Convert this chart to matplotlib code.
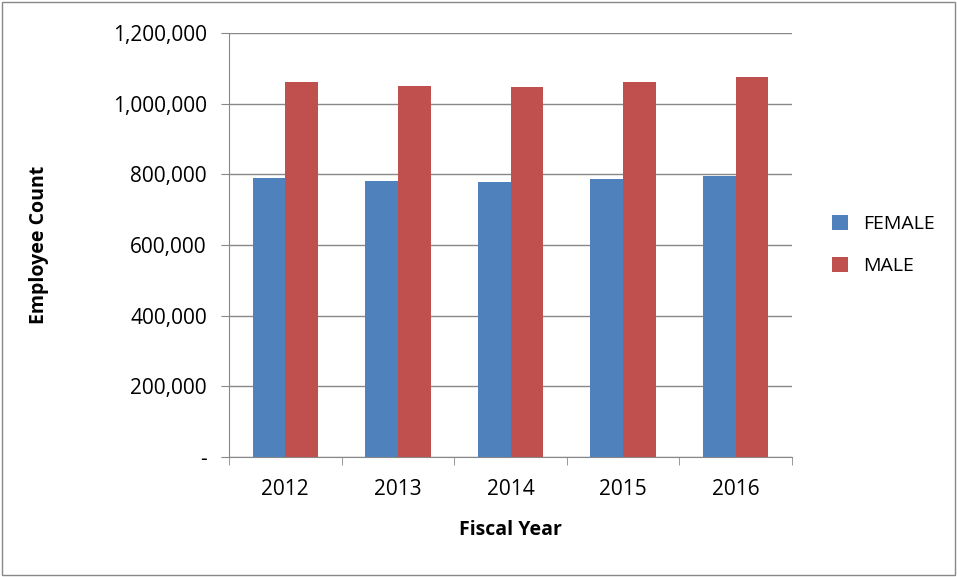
import matplotlib.pyplot as plt
import numpy as np
from matplotlib.ticker import FuncFormatter

years = ["2012", "2013", "2014", "2015", "2016"]
female = [790000, 781000, 778000, 787000, 795000]
male = [1061000, 1050000, 1047000, 1061000, 1075000]

plt.rcParams['font.family'] = ['Open Sans', 'DejaVu Sans']

fig = plt.figure(figsize=(9.57, 5.77), dpi=100)
fig.patches.append(plt.Rectangle((0.002, 0.003), 0.996, 0.994, transform=fig.transFigure,
                                 fill=False, edgecolor='#888888', linewidth=1))
ax = fig.add_axes([229 / 957, 1 - 457 / 577, (792 - 229) / 957, (457 - 33) / 577])

x = np.arange(len(years))
w = 0.29
ax.bar(x - w / 2, female, w, color='#4F81BD', label='FEMALE', zorder=3)
ax.bar(x + w / 2, male, w, color='#C0504D', label='MALE', zorder=3)

ax.set_xlim(-0.5, len(years) - 0.5)
ax.set_ylim(0, 1200000)
ax.set_yticks(np.arange(0, 1200001, 200000))
ax.yaxis.set_major_formatter(FuncFormatter(lambda v, p: '-' if v == 0 else f'{int(v):,}'))
ax.set_xticks(x)
ax.set_xticklabels(years)
ax.set_xticks(np.arange(-0.5, len(years)), minor=True)
ax.tick_params(axis='x', which='major', length=0, labelsize=15, pad=16)
ax.tick_params(axis='x', which='minor', length=6, color='#888888')
ax.tick_params(axis='y', length=6, color='#888888', labelsize=15, pad=10)
ax.grid(axis='y', color='#888888', linewidth=1, zorder=0)
for s in ['top', 'right']:
    ax.spines[s].set_visible(False)
for s in ['left', 'bottom']:
    ax.spines[s].set_color('#888888')

ax.set_xlabel('Fiscal Year', fontsize=14, fontweight='bold', labelpad=14)
ax.set_ylabel('Employee Count', fontsize=14, fontweight='bold', labelpad=46)
ax.legend(loc='center left', bbox_to_anchor=(1.04, 0.5), frameon=False, fontsize=14,
          handlelength=0.8, handleheight=0.8, labelspacing=1.2)

fig.savefig('out.png', dpi=100)
